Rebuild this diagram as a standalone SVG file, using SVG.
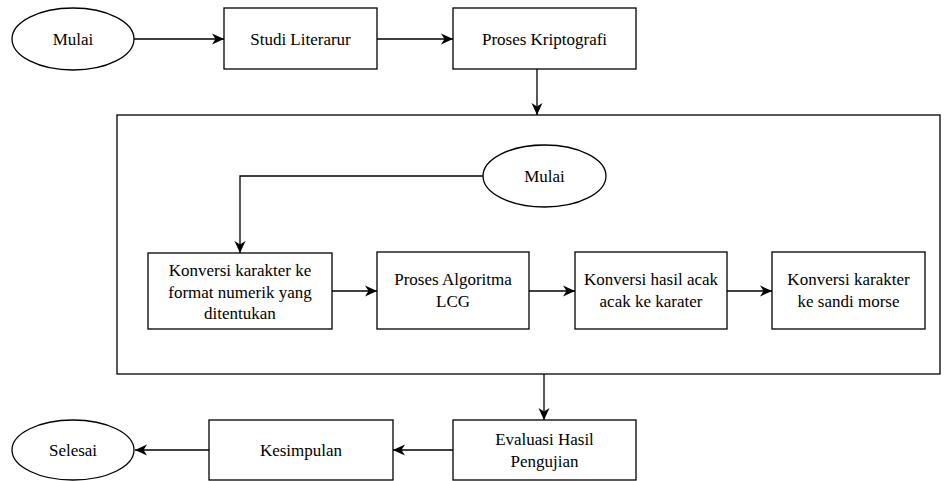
<svg xmlns="http://www.w3.org/2000/svg" width="944" height="481" viewBox="0 0 944 481">
<style>
.s{fill:#fff;stroke:#000;stroke-width:1.3}
.c{fill:none;stroke:#000;stroke-width:1.3}
.t{font-family:'Times New Roman','Liberation Serif','DejaVu Serif','Noto Serif',serif;font-size:17px;fill:#000;text-anchor:middle}
</style>
<defs>
<marker id="a" markerUnits="userSpaceOnUse" markerWidth="14" markerHeight="14" refX="12" refY="7" orient="auto">
<path d="M0,1.5 L12,7 L0,12.5 L3.5,7 z" fill="#000"/>
</marker>
</defs>
<rect width="944" height="481" fill="#fff"/>
<g id="container"><rect class="s" x="117" y="115" width="823" height="259"/></g>
<g id="mulai1"><ellipse class="s" cx="73" cy="39" rx="61" ry="31"/><text class="t" x="73" y="45">Mulai</text></g>
<g id="studi"><rect class="s" x="224" y="8" width="153" height="61"/><text class="t" x="300.5" y="45">Studi Literarur</text></g>
<g id="proses"><rect class="s" x="453" y="8" width="183" height="61"/><text class="t" x="544.5" y="45">Proses Kriptografi</text></g>
<g id="mulai2"><ellipse class="s" cx="544.5" cy="176" rx="61.5" ry="31"/><text class="t" x="544.5" y="182">Mulai</text></g>
<g id="konv1"><rect class="s" x="148" y="253" width="184" height="76"/><text class="t" x="240" y="276">Konversi karakter ke</text><text class="t" x="240" y="298">format numerik yang</text><text class="t" x="240" y="319">ditentukan</text></g>
<g id="lcg"><rect class="s" x="377" y="252" width="152" height="77"/><text class="t" x="453" y="285">Proses Algoritma</text><text class="t" x="453" y="307">LCG</text></g>
<g id="konv2"><rect class="s" x="575" y="252" width="152" height="77"/><text class="t" x="651" y="285">Konversi hasil acak</text><text class="t" x="651" y="307">acak ke karater</text></g>
<g id="konv3"><rect class="s" x="772" y="252" width="153" height="77"/><text class="t" x="848.5" y="285">Konversi karakter</text><text class="t" x="848.5" y="307">ke sandi morse</text></g>
<g id="evaluasi"><rect class="s" x="453" y="420" width="183" height="60"/><text class="t" x="544.5" y="445">Evaluasi Hasil</text><text class="t" x="544.5" y="467">Pengujian</text></g>
<g id="kesimpulan"><rect class="s" x="209" y="420" width="184" height="60"/><text class="t" x="301" y="456">Kesimpulan</text></g>
<g id="selesai"><ellipse class="s" cx="73" cy="450" rx="61" ry="30"/><text class="t" x="73" y="456">Selesai</text></g>
<g id="connectors">
<path class="c" d="M134,39 H224" marker-end="url(#a)"/>
<path class="c" d="M377,39 H453" marker-end="url(#a)"/>
<path class="c" d="M537,69 V115" marker-end="url(#a)"/>
<path class="c" d="M483,176 H240 V253" marker-end="url(#a)"/>
<path class="c" d="M332,291 H377" marker-end="url(#a)"/>
<path class="c" d="M529,291 H575" marker-end="url(#a)"/>
<path class="c" d="M727,291 H772" marker-end="url(#a)"/>
<path class="c" d="M544,374 V420" marker-end="url(#a)"/>
<path class="c" d="M453,450 H393" marker-end="url(#a)"/>
<path class="c" d="M209,450 H135" marker-end="url(#a)"/>
</g>
</svg>
